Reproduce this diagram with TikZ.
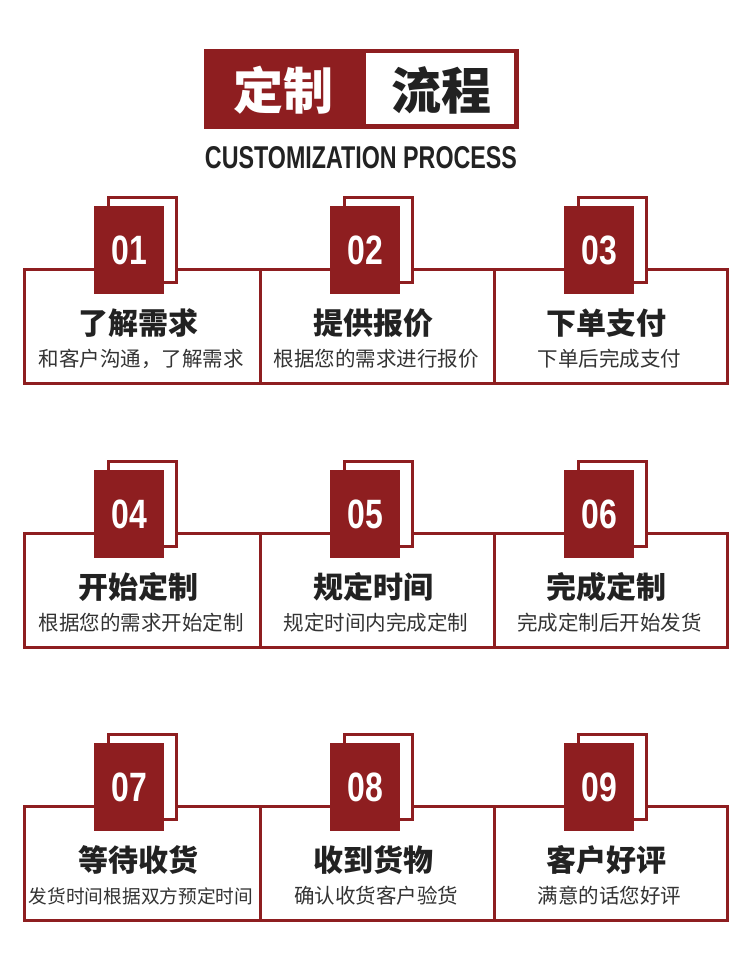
\documentclass[tikz,border=0pt]{standalone}
\usepackage{fontspec}
\setmainfont{Liberation Sans}
\newfontfamily\cjk{Noto Sans CJK SC}
\newfontfamily\cjkheavy{Noto Sans CJK SC Black}
\definecolor{brand}{HTML}{8E1E20}
\definecolor{ink}{HTML}{222222}
\definecolor{subink}{HTML}{333333}
\tikzset{
  cellbox/.style={draw=brand, line width=3pt, fill=white, anchor=north west, inner sep=0pt, minimum height=114pt},
  outlbox/.style={draw=brand, line width=3pt, fill=white, anchor=north west, inner sep=0pt, minimum width=68pt, minimum height=85pt},
  numbox/.style={fill=brand, anchor=north west, inner sep=0pt, minimum width=70pt, minimum height=88pt, text=white,
    font=\bfseries\fontsize{41}{41}\selectfont},
  ttl/.style={text=ink, inner sep=0pt, font=\cjkheavy\fontsize{30}{30}\selectfont},
  sub/.style={text=subink, inner sep=0pt, font=\cjk\fontsize{20.5}{20.5}\selectfont},
}
\newcommand\stepcell[7]{%
  \node[cellbox, minimum width={#3-#2}] (c#1) at (#2,#4) {};
  \node[outlbox] (o#1) at ({#2+84},{#4-72}) {};
  \node[numbox] (n#1) at ({#2+71},{#4-62}) {\scalebox{0.78}[1]{#5}};
  \node[ttl] (h#1) at ({(#2+#3)/2-3},{#4+55}) {#6};
  \node[sub] (s#1) at ({(#2+#3)/2},{#4+91}) {#7};
}
\begin{document}
\begin{tikzpicture}[x=1pt,y=-1pt]
\useasboundingbox[fill=white] (0,0) rectangle (750,964);
% title
\node[fill=brand, minimum width=315pt, minimum height=80pt, inner sep=0pt] (tbox) at (361.5,89) {};
\node[fill=white, minimum width=148pt, minimum height=71pt, inner sep=0pt] (tw) at (440,88.5) {};
\node[text=white, inner sep=0pt, font=\cjkheavy\fontsize{50}{50}\selectfont] (t1) at (283,90) {定制};
\node[text=ink, inner sep=0pt, font=\cjkheavy\fontsize{50}{50}\selectfont] (t2) at (441,90) {流程};
\node[text=ink, inner sep=0pt] (en) at (361,158) {\resizebox{312pt}{22pt}{\bfseries CUSTOMIZATION PROCESS}};
% rows
\stepcell{1}{23}{259}{268}{01}{了解需求}{和客户沟通，了解需求}
\stepcell{2}{259}{493}{268}{02}{提供报价}{根据您的需求进行报价}
\stepcell{3}{493}{726}{268}{03}{下单支付}{下单后完成支付}
\stepcell{4}{23}{259}{532}{04}{开始定制}{根据您的需求开始定制}
\stepcell{5}{259}{493}{532}{05}{规定时间}{规定时间内完成定制}
\stepcell{6}{493}{726}{532}{06}{完成定制}{完成定制后开始发货}
\stepcell{7}{23}{259}{805}{07}{等待收货}{{\fontsize{18.7}{18.7}\selectfont 发货时间根据双方预定时间}}
\stepcell{8}{259}{493}{805}{08}{收到货物}{确认收货客户验货}
\stepcell{9}{493}{726}{805}{09}{客户好评}{满意的话您好评}
\end{tikzpicture}
\end{document}
